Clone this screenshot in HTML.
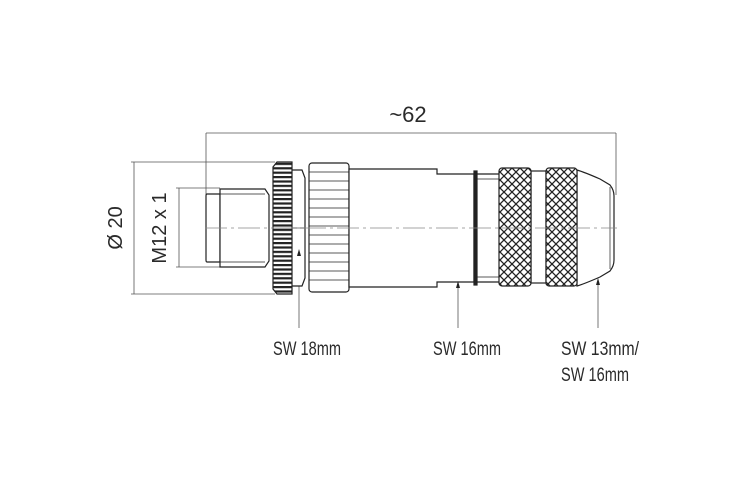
<!DOCTYPE html>
<html><head><style>
html,body{margin:0;padding:0;background:#fff;}
svg{display:block;}
text{font-family:"Liberation Sans Narrow","Liberation Sans",sans-serif;fill:#2a2a2a;}
</style></head><body>
<svg width="741" height="479" viewBox="0 0 741 479" xmlns="http://www.w3.org/2000/svg">
<defs>
<pattern id="kn" width="8" height="8" patternUnits="userSpaceOnUse">
<rect width="8" height="8" fill="#fff"/>
<path d="M0,0 L8,8 M8,0 L0,8" stroke="#222" stroke-width="1.3"/>
</pattern>
<pattern id="teeth" width="8" height="4.4" patternUnits="userSpaceOnUse">
<rect width="8" height="4.4" fill="#fff"/>
<rect y="0" width="8" height="2.2" fill="#222"/>
</pattern>
</defs>
<g fill="none" stroke="#555" stroke-width="0.8">
<line x1="206" y1="133" x2="616" y2="133"/>
<line x1="206" y1="133" x2="206" y2="195"/>
<line x1="616" y1="133" x2="616" y2="195"/>
<line x1="134" y1="162" x2="134" y2="294"/>
<line x1="131" y1="162" x2="275" y2="162"/>
<line x1="131" y1="294" x2="275" y2="294"/>
<line x1="179" y1="188" x2="179" y2="267"/>
<line x1="176" y1="188" x2="220" y2="188"/>
<line x1="176" y1="267" x2="220" y2="267"/>
<line x1="299" y1="252" x2="299" y2="328"/>
<line x1="458" y1="283" x2="458" y2="328"/>
<line x1="598" y1="280" x2="598" y2="328"/>
</g>
<g fill="#fff" stroke="#222" stroke-width="1.2">
<path d="M207,194 h13 v68 h-13 q-1,0 -1,-2 v-64 q0,-2 1,-2z"/>
<path d="M220,189 h45 l4,6 v66 l-4,6 h-45z"/>
<line x1="220" y1="194" x2="265" y2="194" stroke-width="0.7"/>
<line x1="220" y1="262" x2="265" y2="262" stroke-width="0.7"/>
<path d="M289,170 h13 l3,8 v100 l-3,8 h-13z"/>
<line x1="292" y1="228" x2="305" y2="228" stroke-width="0.7"/>
<path d="M277,162 h15 v132 h-15 l-4,-5 v-122z" fill="url(#teeth)"/>
<rect x="309" y="163" width="40" height="129" rx="3"/>
<path d="M349,169 h88 v5 h37 v108 h-37 v5 h-88z"/>
<rect x="474" y="171" width="3" height="114" fill="#222"/>
<path d="M477,174 h23 v108 h-23z"/>
<line x1="477" y1="179" x2="500" y2="179" stroke-width="0.7"/>
<line x1="477" y1="277" x2="500" y2="277" stroke-width="0.7"/>
<rect x="531" y="171" width="15" height="112"/>
<path d="M577,170 Q584,172 600,179 L610,185 Q614,190 614,196 V260 Q614,266 610,271 L600,277 Q584,284 577,286z"/>
<line x1="610" y1="187" x2="610" y2="269" stroke-width="0.7"/>
<rect x="499" y="168" width="32" height="118" rx="3" fill="url(#kn)"/>
<rect x="546" y="168" width="31" height="118" rx="3" fill="url(#kn)"/>
</g>
<g fill="#222">
<path d="M299,249 l-2,7 h4z"/>
<path d="M458,281 l-2,7 h4z"/>
<path d="M598,278 l-2,7 h4z"/>
</g>
<g stroke="#222" stroke-width="0.7">
<line x1="309" y1="172" x2="349" y2="172"/><line x1="309" y1="181" x2="349" y2="181"/>
<line x1="309" y1="190" x2="349" y2="190"/><line x1="309" y1="199" x2="349" y2="199"/>
<line x1="309" y1="208" x2="349" y2="208"/><line x1="309" y1="217" x2="349" y2="217"/>
<line x1="309" y1="226" x2="349" y2="226"/><line x1="309" y1="235" x2="349" y2="235"/>
<line x1="309" y1="244" x2="349" y2="244"/><line x1="309" y1="253" x2="349" y2="253"/>
<line x1="309" y1="262" x2="349" y2="262"/><line x1="309" y1="271" x2="349" y2="271"/>
<line x1="309" y1="280" x2="349" y2="280"/>
</g>
<line x1="205" y1="228" x2="617" y2="228" stroke="#888" stroke-width="0.8" stroke-dasharray="22,4,3,4"/>
<text x="408" y="122" font-size="22" text-anchor="middle">~62</text>
<text transform="translate(122,228) rotate(-90)" font-size="20" text-anchor="middle">Ø 20</text>
<text transform="translate(166,228) rotate(-90)" font-size="20" text-anchor="middle">M12 x 1</text>
<g font-size="19">
<text x="273" y="355" textLength="68" lengthAdjust="spacingAndGlyphs">SW 18mm</text>
<text x="433" y="355" textLength="68" lengthAdjust="spacingAndGlyphs">SW 16mm</text>
<text x="561" y="355" textLength="78" lengthAdjust="spacingAndGlyphs">SW 13mm/</text>
<text x="561" y="381" textLength="68" lengthAdjust="spacingAndGlyphs">SW 16mm</text>
</g>
</svg>
</body></html>
